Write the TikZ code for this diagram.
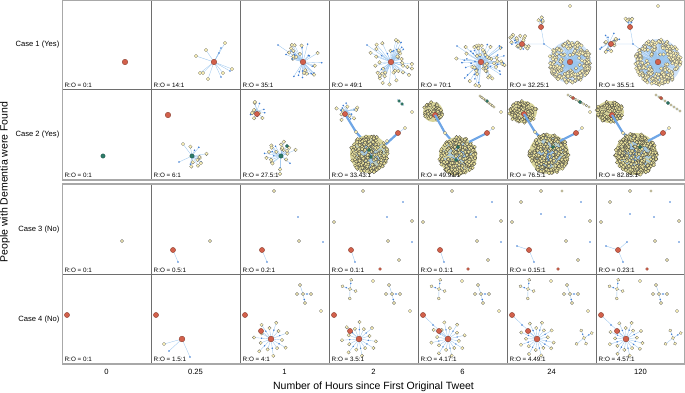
\documentclass[tikz,border=0pt]{standalone}
\usepackage{fontspec}
\setmainfont{Liberation Sans}
\definecolor{redF}{HTML}{D2604B}
\definecolor{redL}{HTML}{7E3526}
\definecolor{tealF}{HTML}{2E7D6A}
\definecolor{tealL}{HTML}{1E4F44}
\definecolor{yelF}{HTML}{FFF5B8}
\definecolor{yelL}{HTML}{666666}
\definecolor{bluN}{HTML}{3C7BD2}
\definecolor{lnkC}{HTML}{9CC6EE}
\definecolor{thkC}{HTML}{6FA6E6}
\definecolor{ballC}{HTML}{CFE3F8}
\definecolor{ballD}{HTML}{D8D49A}
\definecolor{gridC}{HTML}{6E6E6E}
\definecolor{frameC}{HTML}{A8A8A8}
\tikzset{
  lnk/.style={draw=lnkC,line width=0.35pt},
  thk/.style={draw=thkC,line width=2.2pt},
  rnode/.style={fill=redF,draw=redL,line width=0.3pt},
  tnode/.style={fill=tealF,draw=tealL,line width=0.3pt},
  ynode/.style={fill=yelF,draw=yelL,line width=0.25pt},
  ynodeD/.style={fill=yelF!85!olive,draw=yelL!60!black,line width=0.25pt},
  rolab/.style={anchor=base west,inner sep=0pt,font=\fontsize{6.3}{7}\selectfont},
  caselab/.style={anchor=east,inner sep=0pt,font=\fontsize{7.6}{9}\selectfont},
  ticklab/.style={inner sep=0pt,font=\fontsize{7.6}{9}\selectfont},
  axlab/.style={inner sep=0pt,font=\fontsize{10.5}{12}\selectfont},
}
\newcommand\RN[3][2.6]{\path[rnode] (#2,#3) circle (#1pt);}
\newcommand\GN[3][2.2]{\path[tnode] (#2,#3) circle (#1pt);}
\newcommand\YN[3][1.7]{\path[ynode] (#2,#3) circle (#1pt);}
\newcommand\BN[2]{\fill[bluN] (#1,#2) circle (0.9pt);}
% star: cx cy n rmin rmax a0 a1 seed
\newcommand\nwStar[8]{%
  \pgfmathsetseed{#8}%
  \foreach \k in {1,...,#3}{%
    \pgfmathsetmacro\zzA{#6+rnd*(#7-#6)}%
    \pgfmathsetmacro\zzR{#4+rnd*(#5-#4)}%
    \pgfmathsetmacro\zzT{rnd}%
    \draw[lnk] (#1,#2) -- ++(\zzA:\zzR);}%
  \pgfmathsetseed{#8}%
  \foreach \k in {1,...,#3}{%
    \pgfmathsetmacro\zzA{#6+rnd*(#7-#6)}%
    \pgfmathsetmacro\zzR{#4+rnd*(#5-#4)}%
    \pgfmathsetmacro\zzT{rnd}%
    \ifdim\zzT pt<0.33pt\relax
      \fill[bluN] (#1,#2) ++(\zzA:\zzR) circle (0.9pt);%
    \else
      \path[ynode] (#1,#2) ++(\zzA:\zzR) circle (1.8pt);%
    \fi}%
}
% ball: cx cy R n seed nodestyle bgcolor inner-fraction
\newcommand\nwBall[8]{%
  \fill[#7] (#1,#2) circle (#3pt);%
  \pgfmathsetseed{#5}%
  \foreach \k in {1,...,#4}{%
    \pgfmathsetmacro\zzA{rnd*360}%
    \pgfmathsetmacro\zzR{#3*(#8+(1-#8)*sqrt(rnd))}%
    \draw[lnk] (#1,#2) -- ++(\zzA:\zzR);}%
  \pgfmathsetseed{#5}%
  \foreach \k in {1,...,#4}{%
    \pgfmathsetmacro\zzA{rnd*360}%
    \pgfmathsetmacro\zzR{#3*(#8+(1-#8)*sqrt(rnd))}%
    \path[#6] (#1,#2) ++(\zzA:\zzR) circle (1.8pt);}%
}
% blob: cx cy rx ry n seed
\newcommand\nwBlob[6]{%
  \fill[ballD] (#1,#2) ellipse ({#3pt} and {#4pt});%
  \pgfmathsetseed{#6}%
  \foreach \k in {1,...,#5}{%
    \pgfmathsetmacro\zzA{rnd*360}%
    \pgfmathsetmacro\zzR{sqrt(rnd)}%
    \path[ynodeD] ({#1+#3*\zzR*cos(\zzA)},{#2+#4*\zzR*sin(\zzA)}) circle (1.7pt);}%
}
% hub: x y n offset
\newcommand\nwHub[4]{%
  \foreach \k in {1,...,#3}{%
    \pgfmathsetmacro\zzA{#4+\k*360/#3}%
    \pgfmathsetmacro\zzR{ifthenelse(mod(\k,2)==0,11,17)}%
    \draw[lnk] (#1,#2) -- ++(\zzA:\zzR);}%
  \foreach \k in {1,...,#3}{%
    \pgfmathsetmacro\zzA{#4+\k*360/#3}%
    \pgfmathsetmacro\zzR{ifthenelse(mod(\k,2)==0,11,17)}%
    \pgfmathsetmacro\zzB{\zzR*0.55}%
    \path[ynode] (#1,#2) ++(\zzA:\zzR) circle (1.7pt);%
    \ifodd\k\relax \fill[bluN] (#1,#2) ++(\zzA:\zzB) circle (0.8pt);\fi}%
  \path[rnode] (#1,#2) circle (2.9pt);%
}
% mini cluster: x y rot
\newcommand\nwMini[3]{%
  \begin{scope}[shift={(#1,#2)},rotate=#3]
    \draw[lnk] (0,0)--(-3,-9) (0,0)--(-6,0) (0,0)--(8,0) (0,0)--(2,9);
    \path[ynode] (-3,-9) circle (1.6pt) (-6,0) circle (1.6pt) (2,9) circle (1.6pt) (8,0) circle (1.6pt);
    \fill[bluN] (4,0) circle (0.8pt) (1.2,5.5) circle (0.8pt);
    \path[ynode] (0,0) circle (1.6pt);
  \end{scope}}
% chain: x1 y1 x2 y2
\newcommand\nwChain[4]{%
  \draw[lnk] (#1,#2)--(#3,#4);%
  \foreach \zzt in {0,0.125,...,1}{%
    \path[ynode] ({#1+(#3-#1)*\zzt},{#2+(#4-#2)*\zzt}) circle (1.3pt);}%
}
\begin{document}
\begin{tikzpicture}[x=1pt,y=-1pt]
\useasboundingbox (0,0) rectangle (685,393);
% ---------- grid ----------
\foreach \xx in {151,240,329,418,507,596}{
  \draw[gridC,line width=0.6pt] (\xx,0)--(\xx,180) (\xx,184)--(\xx,364);}
\draw[gridC,line width=0.6pt] (62,89)--(685,89) (62,274)--(685,274);
\draw[frameC,line width=1.2pt] (62.6,0.6) rectangle (684.4,180) (62.6,184) rectangle (684.4,364);

% ---------- Row 1 ----------
\RN[2.8]{125}{62}
% c2
\foreach \p/\q in {196/56,206/50,225/43,232/69,223/73,208/79,200/73,203/73,219/53,221/48,230/71,221/77}{\draw[lnk] (214,62)--(\p,\q);}
\foreach \p/\q in {196/56,206/50,225/43,232/69,223/73,208/79,200/73,203/73}{\YN[1.8]{\p}{\q}}
\foreach \p/\q in {219/53,221/48,230/71,221/77}{\BN{\p}{\q}}
\RN[2.8]{214}{62}
% c3
\draw[lnk] (303,62)--(278,45);
\nwStar{303}{62}{35}{8}{21}{0}{360}{11}
\BN{278}{45}\RN[2.8]{303}{62}
% c4
\draw[lnk] (391,62)--(367,45);
\nwStar{391}{62}{49}{8}{23}{0}{360}{12}
\BN{367}{45}\RN[2.8]{391}{62}
% c5
\draw[lnk] (481,62)--(457,46);
\nwStar{481}{62}{72}{5}{25}{0}{360}{13}
\BN{457}{46}\RN[2.8]{481}{62}
% c6
\draw[lnk] (541,27)--(544,44) (522,44)--(544,44) (544,44)--(570,62);
\nwStar{541}{27}{7}{5}{10}{240}{300}{21}
\nwStar{520}{43}{22}{3}{11}{0}{360}{22}
\nwBall{570}{62}{21}{190}{23}{ynode}{ballC}{0.3}
\BN{544}{44}\RN{541}{27}\RN{522}{44}\RN[2.8]{570}{62}\YN{570}{6}
% c7
\draw[lnk] (630,27)--(633,44) (611,44)--(633,44) (633,44)--(658,62);
\nwStar{630}{27}{8}{5}{10}{240}{300}{24}
\nwStar{609}{43}{24}{3}{11}{0}{360}{25}
\nwBall{658}{62}{23}{225}{26}{ynode}{ballC}{0.3}
\BN{633}{44}\RN{630}{27}\RN{611}{44}\RN[2.8]{658}{62}\YN{658}{6}

% ---------- Row 2 ----------
\GN{103}{156}
% c2
\RN[2.8]{168}{115}
\draw[lnk] (192,156)--(183,144) (192,156)--(179,162);
\nwStar{192}{156}{13}{6}{15}{260}{470}{41}
\YN{183}{144}\BN{179}{162}\GN{192}{156}
% c3
\nwStar{257}{111}{16}{3}{10}{0}{360}{42}
\RN{257}{114}
\nwStar{281}{156}{28}{6}{18}{0}{360}{43}
\GN{281}{156}\GN[1.6]{287}{146}
% c4
\draw[thk] (345,114)--(356,132)--(365,142);
\draw[thk] (384,146)--(398,133);
\nwStar{347}{111}{18}{3}{11}{0}{360}{45}
\nwBall{369}{154}{19}{190}{44}{ynodeD}{ballD}{0}
\GN[1.6]{369}{150}\GN[1.6]{371}{157}
\RN{345}{114}\YN{356}{132}\YN{387}{141}
\draw[lnk] (398,133)--(405,128);
\RN{398}{133}\YN{405}{128}
\draw[lnk] (397,99)--(404,106);
\GN[1.5]{399}{101}\GN[1.5]{402}{104}
\YN{412}{112}
% c5
\nwBlob{433}{112}{10}{10}{45}{51}
\RN{435}{115}
\draw[thk] (435,115)--(445,133)--(452,141);
\nwBall{458}{156}{19}{210}{52}{ynodeD}{ballD}{0}
\GN[1.6]{458}{147}\GN[1.6]{456}{160}
\draw[thk] (469,142)--(487,133);
\YN{445}{133}\draw[lnk] (487,133)--(493,128);\RN{487}{133}\YN{493}{128}
\nwChain{480}{96}{494}{107}
\GN[1.5]{487}{101}
\YN{501}{112}
% c6
\nwBlob{523}{112}{14}{11}{80}{61}
\RN{524}{114}
\draw[thk] (524,114)--(535,132)--(541,138);
\nwBall{549}{154}{20}{240}{62}{ynodeD}{ballD}{0}
\GN[1.6]{553}{147}\BN{548}{151}\BN{548}{154}\BN{548}{157}\BN{548}{160}
\draw[thk] (560,141)--(576,133);
\YN{535}{132}\draw[lnk] (576,133)--(582,128);\RN{576}{133}\YN{582}{128}
\nwChain{568}{95}{589}{107}
\RN[1.6]{573}{98}\GN[1.6]{580}{102}
\YN{590}{112}
% c7
\nwBlob{610}{112}{14}{11}{80}{71}
\RN{612}{115}
\draw[thk] (612,115)--(623,133)--(629,138);
\nwBall{636}{154}{21}{260}{72}{ynodeD}{ballD}{0}
\GN[1.6]{640}{147}\BN{635}{151}\BN{635}{154}\BN{635}{157}\BN{635}{160}
\draw[thk] (648,141)--(663,133);
\YN{623}{133}\draw[lnk] (663,133)--(669,128);\RN{663}{133}\YN{669}{128}
\nwChain{656}{95}{680}{111}
\RN[1.6]{661}{98}\GN[1.6]{668}{103}

% ---------- Row 3 ----------
\YN[1.6]{122}{241}
% c2
\draw[lnk] (173,250)--(178,262);
\YN[1.6]{210}{241}\RN{173}{250}\BN{178}{262}
% c3
\draw[lnk] (262,250)--(267,262);
\YN[1.6]{274}{191}\BN{298}{217}\YN[1.6]{299}{241}\BN{323}{242}\RN{262}{250}\BN{267}{262}
% c4
\draw[lnk] (351,250)--(355,262);
\YN[1.6]{363}{191}\BN{403}{202}\YN[1.6]{334}{222}\BN{387}{217}\YN[1.6]{412}{221}
\YN[1.6]{388}{241}\BN{412}{242}\YN[1.6]{399}{260}\RN{351}{250}\BN{355}{262}\RN[1.5]{380}{269}
% c5
\draw[lnk] (440,250)--(444,262);
\YN[1.6]{452}{191}\BN{492}{202}\YN[1.6]{423}{222}\BN{476}{217}\YN[1.6]{501}{221}
\YN[1.6]{477}{241}\BN{501}{242}\YN[1.6]{488}{260}\RN{440}{250}\BN{444}{262}\RN[1.5]{468}{269}
% c6
\draw[lnk] (529,250)--(517,246) (529,250)--(534,262);
\YN[1.6]{541}{191}\YN[1.3]{562}{191}\YN[1.6]{521}{202}\BN{581}{202}\YN[1.6]{512}{222}
\BN{541}{214}\BN{565}{217}\YN[1.6]{590}{221}\YN[1.6]{566}{241}\BN{590}{242}
\YN[1.6]{578}{260}\RN[1.5]{558}{269}\BN{517}{246}\BN{534}{262}\RN{529}{250}
% c7
\draw[lnk] (618,250)--(606,246) (618,250)--(623,262) (618,250)--(627,242);
\YN[1.6]{630}{191}\YN[1.3]{651}{191}\YN[1.6]{610}{202}\BN{670}{202}\YN[1.6]{601}{222}
\BN{630}{214}\BN{654}{217}\YN[1.6]{679}{221}\YN[1.6]{655}{241}\BN{679}{242}
\YN[1.6]{667}{260}\RN[1.5]{647}{269}\BN{606}{246}\BN{623}{262}\BN{627}{242}\RN{618}{250}

% ---------- Row 4 ----------
\RN{67}{315}
% c2
\draw[lnk] (182,339)--(164,344) (182,339)--(169,351) (182,339)--(190,357);
\RN{156}{315}\YN{164}{344}\BN{169}{351}\BN{190}{357}\RN[2.9]{182}{339}
% c3
\draw[lnk] (261,331)--(271,339);
\nwHub{271}{339}{14}{5}
\RN{245}{315}\RN{261}{331}
\nwMini{303}{294}{0}\YN{321}{311}
% c4
\draw[lnk] (350,331)--(359,339);
\nwHub{359}{339}{15}{8}
\RN{334}{315}\RN{350}{331}
\nwMini{350}{289}{160}\YN{373}{281}\nwMini{392}{294}{0}\YN{410}{311}
% c5
\draw[lnk] (423,315)--(448,339) (439,331)--(448,339);
\nwHub{448}{339}{16}{10}
\BN{433}{325}\RN{423}{315}\RN{439}{331}
\nwMini{439}{289}{160}\YN{462}{281}\nwMini{481}{294}{0}\YN{499}{311}
% c6
\draw[lnk] (512,315)--(537,339) (528,331)--(537,339);
\nwHub{537}{339}{17}{12}
\BN{522}{325}\RN{512}{315}\RN{528}{331}
\nwMini{528}{289}{160}\YN{551}{281}\nwMini{570}{294}{0}\YN{588}{311}\nwMini{584}{338}{110}
% c7
\draw[lnk] (601,315)--(626,339) (617,331)--(626,339);
\nwHub{626}{339}{17}{14}
\BN{611}{325}\RN{601}{315}\RN{617}{331}
\nwMini{617}{289}{160}\YN{640}{281}\nwMini{659}{294}{0}\YN{677}{311}\nwMini{673}{338}{110}

% ---------- R:O labels ----------
\foreach \xx/\tx in {62/0:1,151/14:1,240/35:1,329/49:1,418/70:1,507/32.25:1,596/35.5:1}{
  \node[rolab] at (\xx+2.5,87.5) {R:O = \tx};}
\foreach \xx/\tx in {62/0:1,151/6:1,240/27.5:1,329/33.43:1,418/49.91:1,507/76.5:1,596/82.85:1}{
  \node[rolab] at (\xx+2.5,177.5) {R:O = \tx};}
\foreach \xx/\tx in {62/0:1,151/0.5:1,240/0.2:1,329/0.1:1,418/0.1:1,507/0.15:1,596/0.23:1}{
  \node[rolab] at (\xx+2.5,272.5) {R:O = \tx};}
\foreach \xx/\tx in {62/0:1,151/1.5:1,240/4:1,329/3.5:1,418/4.17:1,507/4.49:1,596/4.57:1}{
  \node[rolab] at (\xx+2.5,361.8) {R:O = \tx};}

% ---------- row labels ----------
\node[caselab] (c1) at (59.5,45) {Case 1 (Yes)};
\node[caselab] (c2) at (59.5,135) {Case 2 (Yes)};
\node[caselab] (c3) at (59.5,230) {Case 3 (No)};
\node[caselab] (c4) at (59.5,320) {Case 4 (No)};

% ---------- axes ----------
\foreach \xx/\tx in {106.5/0,195.5/0.25,284.5/1,373.5/2,462.5/6,551.5/24,640.5/120}{
  \node[ticklab] at (\xx,372) {\tx};}
\node[axlab] (xt) at (373.5,387) {Number of Hours since First Original Tweet};
\node[axlab,rotate=90] (yt) at (5,182) {People with Dementia were Found};
\end{tikzpicture}
\end{document}
